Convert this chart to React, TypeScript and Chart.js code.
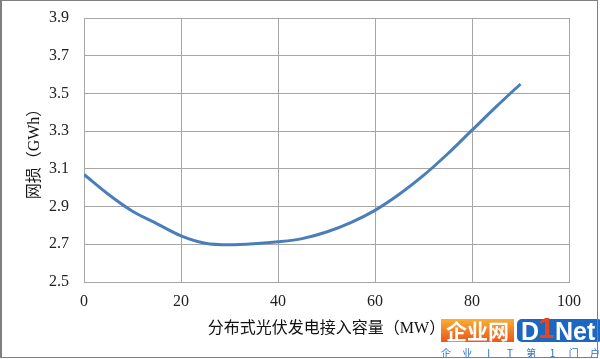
import React, { useEffect, useRef } from "react";
import { Chart, registerables } from "chart.js";

Chart.register(...registerables);

const capacityMW = [0, 5, 10, 15, 20, 25, 30, 35, 40, 45, 50, 55, 60, 65, 70, 75, 80, 85, 90];
const lossGWh = [3.07, 2.965, 2.875, 2.81, 2.745, 2.706, 2.698, 2.703, 2.713, 2.73, 2.765, 2.815, 2.88, 2.965, 3.065, 3.18, 3.305, 3.43, 3.55];
const xTitle = "分布式光伏发电接入容量（MW）";
const yTitle = "网损（GWh）";
const watermarkMain = "企业网";
const watermarkSub = ["企", "业", "I", "T", "第", "1", "门", "户"];

const FONT = "'Liberation Serif', 'Noto Sans CJK SC', serif";

export default function App() {
  const ref = useRef<HTMLCanvasElement>(null);

  useEffect(() => {
    if (!ref.current) return;
    const framePlugin = {
      id: "frame",
      afterDraw(chart: any) {
        const ctx = chart.ctx as CanvasRenderingContext2D;
        ctx.save();
        // watermark: orange block
        const g = ctx.createLinearGradient(0, 318, 0, 342);
        g.addColorStop(0, "#f9b233");
        g.addColorStop(1, "#e9561d");
        ctx.fillStyle = g;
        ctx.fillRect(441, 319, 73, 23);
        ctx.textBaseline = "middle";
        ctx.textAlign = "center";
        ctx.font = "bold 21px 'Noto Sans CJK SC'";
        ctx.fillStyle = "#ffffff";
        ctx.fillText(watermarkMain, 477.5, 331);
        // blue block
        ctx.fillStyle = "#1b67c2";
        ctx.beginPath();
        (ctx as any).roundRect(517, 319, 86, 23, 5);
        ctx.fill();
        ctx.font = "bold 25px 'Liberation Sans', sans-serif";
        ctx.textAlign = "left";
        ctx.textBaseline = "alphabetic";
        ctx.fillStyle = "#ffffff";
        ctx.fillText("D", 521, 340);
        ctx.fillStyle = "#e8441e";
        ctx.font = "bold 30px 'Liberation Sans', sans-serif";
        ctx.fillText("1", 538, 338);
        ctx.fillStyle = "#ffffff";
        ctx.font = "bold 25px 'Liberation Sans', sans-serif";
        ctx.fillText("Net", 555, 340);
        ctx.font = "10px 'Noto Sans CJK SC'";
        ctx.fillStyle = "#2a72c8";
        ctx.textAlign = "center";
        ctx.textBaseline = "middle";
        watermarkSub.forEach((ch, i) => {
          ctx.fillText(ch, 446 + i * 21.3, 353.5);
        });
        // outer frame
        ctx.strokeStyle = "#7f7f7f";
        ctx.lineWidth = 1;
        ctx.strokeRect(1.5, 0.5, 596, 357);
        ctx.fillStyle = "#7f7f7f";
        ctx.fillRect(0, 0, 2, 358);
        ctx.restore();
      },
    };

    const chart = new Chart(ref.current, {
      type: "line",
      data: {
        datasets: [
          {
            data: capacityMW.map((x, i) => ({ x, y: lossGWh[i] })),
            borderColor: "#4a7ebb",
            borderWidth: 3,
            pointRadius: 0,
            cubicInterpolationMode: "monotone",
            fill: false,
          },
        ],
      },
      options: {
        animation: false,
        responsive: false,
        devicePixelRatio: 1,
        layout: { padding: { top: 18, right: 31, left: 0, bottom: 0 } },
        plugins: { legend: { display: false }, tooltip: { enabled: false } },
        scales: {
          x: {
            type: "linear",
            min: 0,
            max: 100,
            ticks: { stepSize: 20, color: "#222", font: { family: FONT, size: 16 }, padding: 10 },
            grid: { color: "#a6a6a6", drawTicks: false, lineWidth: 1 },
            border: { color: "#a6a6a6" },
            title: {
              display: true,
              text: xTitle,
              color: "#111",
              font: { family: FONT, size: 16 },
              padding: { top: 0, bottom: 21 },
            },
            afterFit: (s: any) => {
              s.height = 77;
              s.paddingLeft = 0;
              s.paddingRight = 0;
            },
          },
          y: {
            type: "linear",
            min: 2.5,
            max: 3.9,
            ticks: {
              stepSize: 0.2,
              color: "#222",
              font: { family: FONT, size: 16 },
              padding: 15,
              callback: (v: any) => Number(v).toFixed(1),
            },
            grid: { color: "#a6a6a6", drawTicks: false, lineWidth: 1 },
            border: { color: "#a6a6a6" },
            title: {
              display: true,
              text: yTitle,
              color: "#111",
              font: { family: FONT, size: 16 },
              padding: { top: 25, bottom: 0 },
            },
            afterFit: (s: any) => {
              s.width = 84;
              s.paddingTop = 0;
              s.paddingBottom = 0;
            },
          },
        },
      },
      plugins: [framePlugin],
    } as any);
    return () => chart.destroy();
  }, []);

  return (
    <div style={{ position: "absolute", left: 0, top: 0, width: 600, height: 359, background: "#fff" }}>
      <canvas ref={ref} width={600} height={359} style={{ display: "block", width: 600, height: 359 }} />
    </div>
  );
}
